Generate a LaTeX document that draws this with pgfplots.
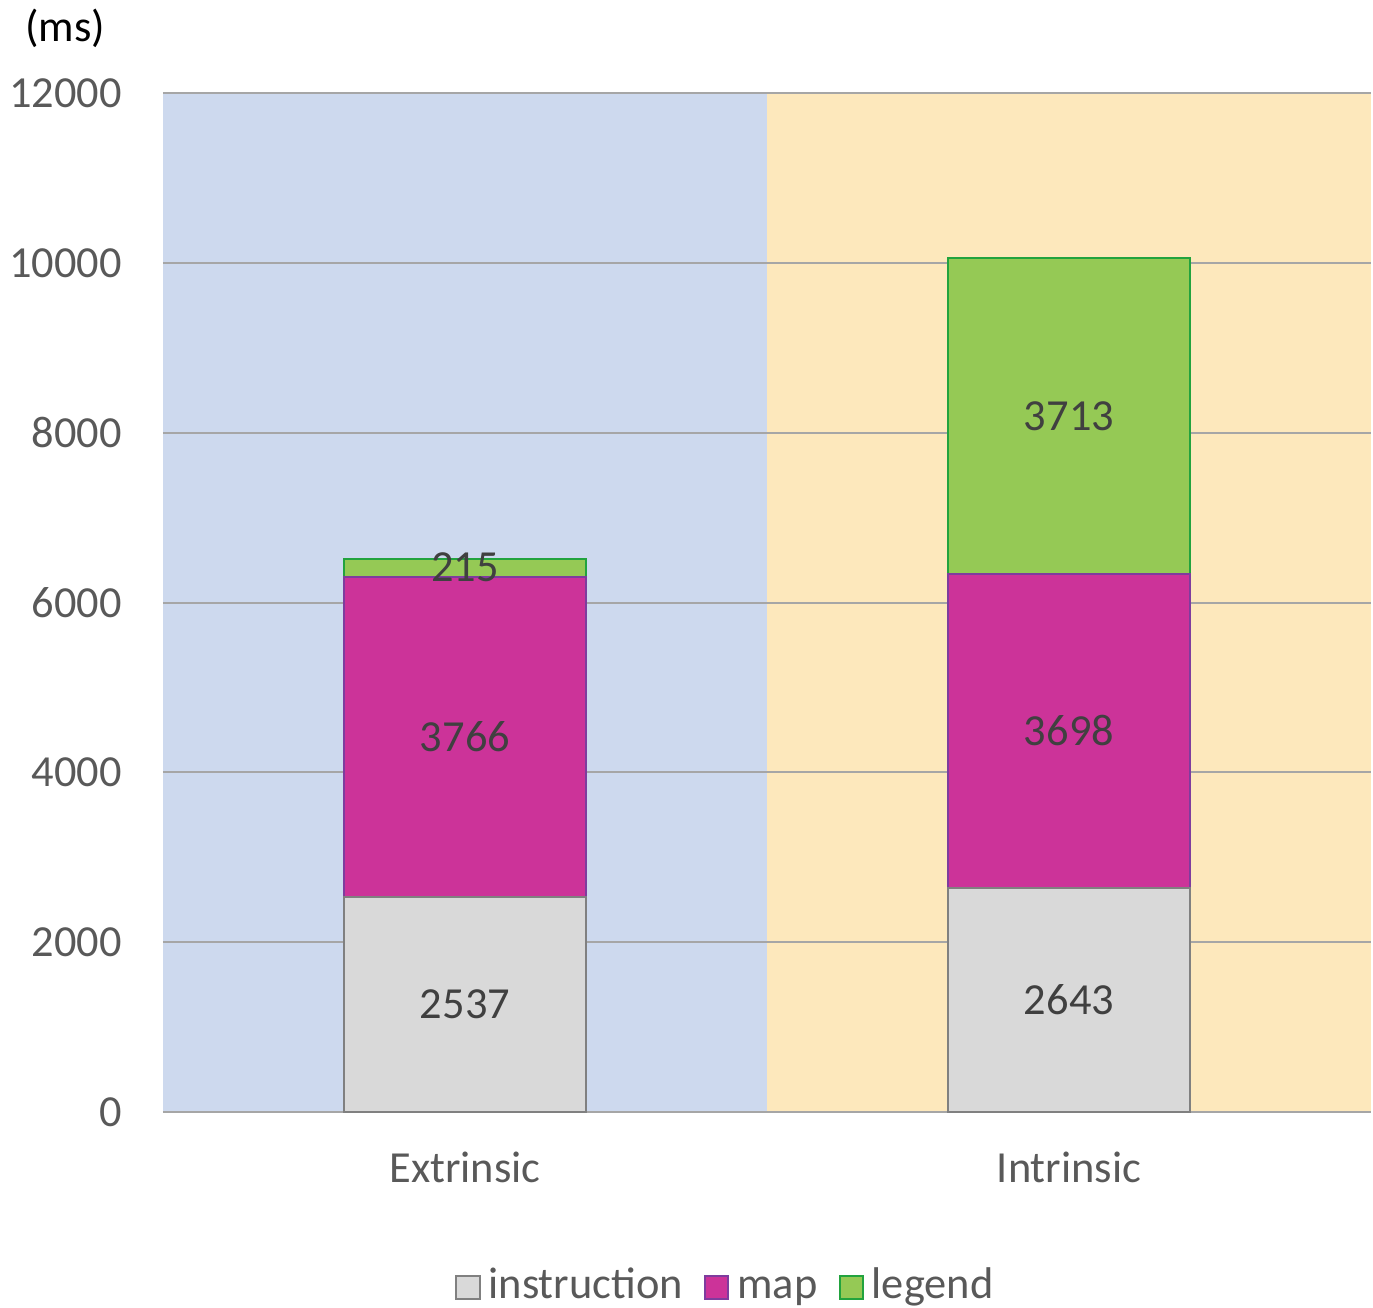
\documentclass[border=0pt]{standalone}
\usepackage{pgfplots}
\pgfplotsset{compat=1.18}
\usepackage{fontspec}
\setmainfont{Carlito}

\definecolor{bgblue}{HTML}{CDD9EE}
\definecolor{bgyellow}{HTML}{FDE8BC}
\definecolor{instr}{HTML}{D9D9D9}
\definecolor{instredge}{HTML}{808080}
\definecolor{mapc}{HTML}{CC3399}
\definecolor{mapedge}{HTML}{7E3C9E}
\definecolor{legc}{HTML}{95C955}
\definecolor{legedge}{HTML}{22A33E}
\definecolor{ticktext}{HTML}{595959}
\definecolor{labtext}{HTML}{404040}

\begin{document}
\begin{tikzpicture}
\path[use as bounding box] (-40.75pt,-49pt) rectangle (302.5pt,278pt);
\begin{axis}[
    at={(0,0)}, anchor=south west,
    scale only axis,
    width=302pt, height=254.75pt,
    axis background/.style={fill=bgblue, path picture={
        \fill[bgyellow] (path picture bounding box.south) rectangle (path picture bounding box.north east);}},
    ybar stacked,
    bar width=0.4,
    xmin=-0.5, xmax=1.5,
    ymin=0, ymax=12000,
    xtick={0,1},
    xticklabels={Extrinsic,Intrinsic},
    ytick={0,2000,...,12000},
    ymajorgrids,
    major grid style={color=black!35, line width=0.5pt},
    axis line style={draw=none},
    tick style={draw=none},
    scaled y ticks=false,
    /pgf/number format/assume math mode=true,
    /pgf/number format/1000 sep={},
    ticklabel style={font=\fontsize{11.1}{13}\selectfont, text=ticktext},
    xticklabel style={yshift=-6.5pt},
    yticklabel style={xshift=-6.75pt},
    visualization depends on=rawy\as\rawy,
    nodes near coords={\pgfmathprintnumber[assume math mode=true]{\rawy}},
    every node near coord/.append style={anchor=center,
        font=\fontsize{11.1}{13}\selectfont, text=labtext},
    legend style={at={(0.468,-0.172)}, anchor=center, draw=none, fill=none,
        legend columns=-1, font=\fontsize{11.1}{13}\selectfont, text=ticktext,
        nodes={text height=1.6ex, text depth=0.45ex},
        /tikz/every even column/.append style={column sep=3.3pt},
        inner sep=0pt},
    legend image code/.code={\draw[#1, line width=0.5pt] (0pt,-2.9pt) rectangle (5.8pt,2.9pt);},
]
% instruction
\addplot[fill=instr, draw=instredge, line width=0.5pt] coordinates {(0,2537) (1,2643)};
\addlegendentry{instruction}
% map
\addplot[fill=mapc, draw=mapedge, line width=0.5pt] coordinates {(0,3766) (1,3698)};
\addlegendentry{map}
% legend
\addplot[fill=legc, draw=legedge, line width=0.5pt] coordinates {(0,215) (1,3713)};
\addlegendentry{legend}
\end{axis}
\node[font=\fontsize{11.1}{13}\selectfont, text=black] at (-24.5pt,270.8pt) {(ms)};
\end{tikzpicture}
\end{document}
